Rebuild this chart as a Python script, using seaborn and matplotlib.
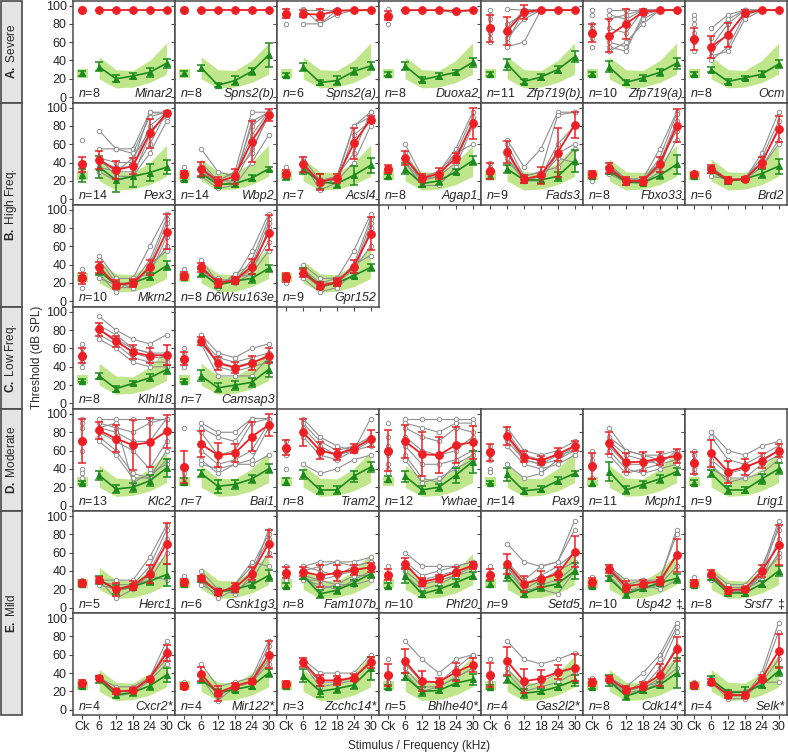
import numpy as np
import pandas as pd
import matplotlib
matplotlib.use("Agg")
import matplotlib.pyplot as plt
import seaborn as sns
from matplotlib.patches import Rectangle

sns.set_theme(style="ticks")
plt.rcParams["font.family"] = ["Liberation Sans", "DejaVu Sans"]
plt.rcParams["mathtext.fontset"] = "custom"
plt.rcParams["mathtext.it"] = "Liberation Sans:italic"
plt.rcParams["mathtext.rm"] = "Liberation Sans"
plt.rcParams["mathtext.bf"] = "Liberation Sans:bold"

# ---------------- data ----------------
X_LABELS = ["Ck", "6", "12", "18", "24", "30"]
BAND_LO = [21, 20, 10, 11, 16, 25]
BAND_HI = [31, 44, 30, 29, 40, 59]

GROUPS = ["A. Severe", "B. High Freq.", "C. Low Freq.", "D. Moderate", "E. Mild"]
GROUP_ROWS = [(0, 0), (1, 2), (3, 3), (4, 4), (5, 6)]
ROW_COUNTS = [7, 7, 3, 2, 7, 7, 7]

GENES = ["Minar2", "Spns2(b)", "Spns2(a)", "Duoxa2", "Zfp719(b)", "Zfp719(a)", "Ocm",
         "Pex3", "Wbp2", "Acsl4", "Agap1", "Fads3", "Fbxo33", "Brd2",
         "Mkrn2", "D6Wsu163e", "Gpr152",
         "Klhl18", "Camsap3",
         "Klc2", "Bai1", "Tram2", "Ywhae", "Pax9", "Mcph1", "Lrig1",
         "Herc1", "Csnk1g3", "Fam107b", "Phf20", "Setd5", "Usp42 ‡", "Srsf7 ‡",
         "Cxcr2*", "Mir122*", "Zcchc14*", "Bhlhe40*", "Gas2l2*", "Cdk14*", "Selk*"]
NS = [8, 8, 6, 8, 11, 10, 8,
      14, 14, 7, 8, 9, 8, 6,
      10, 8, 9,
      8, 7,
      13, 7, 8, 12, 14, 11, 9,
      5, 6, 8, 10, 9, 10, 8,
      4, 4, 3, 5, 4, 8, 4]

CTRL_MEAN = [
    [26, 33, 20, 23, 27, 37], [26, 32, 13, 18, 28, 46], [24, 33, 16, 18, 28, 34],
    [25, 34, 19, 23, 27, 38], [25, 36, 17, 22, 30, 44], [25, 33, 16, 21, 27, 37],
    [25, 30, 17, 21, 25, 36],
    [26, 35, 21, 25, 29, 35], [22, 28, 16, 17, 23, 33], [25, 33, 19, 17, 26, 37],
    [25, 33, 17, 20, 30, 42], [25, 33, 21, 21, 25, 42], [25, 31, 19, 18, 26, 38],
    [25, 32, 20, 22, 28, 36],
    [25, 33, 18, 20, 27, 39], [27, 31, 18, 22, 25, 36], [26, 33, 17, 20, 28, 37],
    [25, 30, 16, 22, 28, 37], [25, 30, 17, 20, 23, 37],
    [25, 33, 18, 20, 27, 41], [26, 35, 21, 23, 29, 40], [26, 34, 17, 17, 32, 42],
    [29, 32, 17, 20, 33, 48], [25, 34, 16, 18, 27, 35], [25, 37, 17, 23, 29, 37],
    [25, 35, 17, 17, 29, 40],
    [26, 30, 20, 23, 29, 36], [26, 31, 17, 20, 25, 35], [24, 35, 15, 19, 27, 37],
    [24, 35, 15, 20, 27, 35], [26, 36, 15, 22, 26, 40], [24, 32, 15, 21, 27, 32],
    [25, 33, 16, 16, 26, 40],
    [26, 33, 16, 19, 26, 38], [26, 33, 19, 22, 26, 40], [26, 37, 20, 23, 27, 45],
    [25, 36, 20, 21, 29, 33], [25, 33, 18, 20, 25, 32], [25, 32, 15, 21, 27, 40],
    [26, 33, 19, 19, 27, 42]]
CTRL_SD = [
    [3, 5, 4, 3, 5, 5], [3, 3, 2, 5, 4, 13], [2, 4, 3, 5, 4, 4],
    [2, 4, 3, 3, 3, 5], [2, 6, 3, 3, 4, 6], [2, 6, 3, 3, 4, 6],
    [2, 3, 3, 2, 3, 4],
    [7, 12, 13, 12, 9, 8], [2, 4, 4, 4, 3, 2], [4, 5, 8, 5, 10, 8],
    [3, 6, 4, 4, 3, 5], [3, 4, 3, 3, 5, 12], [2, 4, 3, 3, 4, 10],
    [2, 3, 3, 2, 5, 8],
    [3, 4, 3, 3, 4, 5], [3, 4, 3, 3, 5, 4], [3, 3, 4, 3, 3, 4],
    [2, 3, 3, 2, 4, 5], [2, 6, 5, 5, 5, 8],
    [2, 5, 4, 5, 6, 10], [4, 4, 7, 5, 4, 5], [4, 5, 4, 4, 6, 5],
    [3, 6, 4, 4, 8, 12], [2, 7, 3, 3, 4, 3], [4, 10, 4, 4, 4, 4],
    [3, 4, 4, 3, 5, 6],
    [2, 4, 5, 3, 4, 12], [2, 3, 3, 3, 3, 6], [3, 4, 4, 4, 3, 5],
    [3, 8, 3, 4, 4, 4], [3, 7, 3, 4, 4, 9], [3, 3, 4, 3, 3, 5],
    [2, 3, 3, 3, 3, 5],
    [2, 4, 3, 4, 4, 8], [2, 4, 4, 3, 3, 4], [2, 7, 6, 5, 4, 13],
    [2, 4, 5, 3, 3, 6], [2, 4, 5, 3, 3, 6], [2, 6, 4, 3, 3, 16],
    [2, 4, 3, 6, 3, 5]]
MUT_MEAN = [
    [95, 95, 95, 95, 95, 95], [95, 95, 95, 95, 95, 95], [91, 91, 90, 94, 95, 95],
    [89, 95, 95, 95, 94, 95], [75, 72, 93, 95, 95, 95], [70, 67, 80, 93, 95, 95],
    [63, 55, 68, 92, 95, 95],
    [38, 43, 32, 36, 72, 94], [27, 33, 19, 25, 63, 92], [28, 38, 19, 23, 61, 87],
    [33, 45, 23, 28, 45, 83], [31, 52, 22, 26, 51, 81], [27, 34, 20, 20, 38, 80],
    [27, 33, 21, 22, 40, 77],
    [25, 37, 18, 20, 37, 76], [28, 37, 20, 23, 38, 75], [26, 31, 17, 21, 38, 74],
    [52, 81, 68, 56, 52, 53], [49, 68, 44, 39, 44, 52],
    [70, 82, 73, 66, 69, 81], [42, 67, 55, 57, 75, 88], [63, 80, 60, 56, 62, 73],
    [60, 70, 56, 55, 66, 69], [58, 76, 53, 49, 56, 65], [43, 68, 47, 48, 51, 54],
    [46, 57, 37, 42, 49, 60],
    [27, 30, 20, 24, 37, 70], [28, 32, 17, 22, 37, 70], [38, 39, 35, 38, 41, 44],
    [36, 48, 28, 32, 39, 46], [36, 48, 26, 31, 37, 61], [28, 42, 23, 26, 29, 57],
    [27, 37, 19, 20, 40, 68],
    [29, 35, 20, 21, 34, 62], [26, 39, 18, 26, 31, 60], [28, 52, 32, 32, 35, 52],
    [38, 53, 31, 30, 41, 49], [38, 53, 31, 34, 41, 46], [30, 34, 22, 26, 38, 66],
    [27, 30, 16, 16, 34, 64]]
MUT_SD = [
    [0, 0, 0, 0, 0, 0], [0, 0, 0, 0, 0, 0], [5, 4, 6, 1, 0, 0],
    [5, 0, 0, 0, 1, 0], [15, 15, 8, 0, 0, 0], [10, 18, 16, 3, 0, 0],
    [12, 12, 13, 3, 0, 0],
    [8, 10, 10, 9, 16, 2], [4, 8, 5, 8, 22, 7], [4, 8, 9, 5, 17, 4],
    [4, 8, 4, 6, 5, 17], [9, 12, 4, 9, 27, 14], [4, 5, 4, 4, 8, 18],
    [2, 4, 3, 2, 6, 14],
    [6, 6, 5, 4, 8, 19], [4, 5, 4, 4, 8, 19], [5, 4, 4, 4, 7, 18],
    [8, 7, 6, 8, 8, 11], [7, 4, 7, 6, 8, 8],
    [24, 9, 15, 27, 27, 18], [17, 14, 13, 10, 16, 12], [8, 15, 9, 6, 5, 9],
    [22, 18, 24, 20, 20, 18], [9, 10, 6, 5, 7, 5], [14, 12, 10, 10, 7, 8],
    [12, 15, 12, 9, 8, 7],
    [3, 3, 7, 5, 10, 22], [3, 3, 3, 5, 7, 15], [6, 5, 12, 9, 5, 5],
    [6, 6, 4, 4, 5, 4], [6, 11, 9, 9, 7, 17], [4, 4, 6, 4, 4, 18],
    [3, 4, 4, 3, 7, 22],
    [3, 2, 3, 3, 2, 9], [3, 8, 8, 3, 3, 15], [3, 5, 6, 5, 4, 6],
    [12, 13, 11, 5, 10, 8], [13, 15, 13, 9, 8, 15], [4, 3, 4, 4, 12, 13],
    [2, 3, 3, 3, 4, 19]]
INDIV = [
    [], [],
    [[95, 95, 95, 95, 95, 95], [80, 80, 80, 95, 95, 95], [95, 96, 80, 90, 95, 95], [90, 95, 95, 95, 95, 95]],
    [[96, 95, 95, 95, 92, 95], [80, 95, 95, 95, 95, 95]],
    [[95, 60, 95, 95, 95, 95], [85, 55, 60, 95, 95, 95], [65, 96, 95, 95, 95, 95],
     [60, 80, 90, 95, 95, 95], [90, 75, 95, 95, 95, 95], [70, 65, 85, 95, 95, 95]],
    [[95, 95, 95, 95, 95, 95], [90, 90, 85, 95, 95, 95], [55, 85, 90, 95, 95, 95],
     [80, 75, 70, 95, 95, 95], [65, 60, 55, 85, 95, 95], [75, 55, 50, 90, 95, 95], [70, 50, 60, 80, 95, 95]],
    [[90, 75, 90, 95, 95, 95], [85, 65, 85, 95, 95, 95], [80, 55, 80, 95, 95, 95],
     [50, 50, 70, 90, 95, 95], [70, 40, 55, 90, 95, 95], [60, 45, 50, 85, 95, 95]],
    [[65, 75, 55, 55, 95, 95], [40, 55, 55, 50, 90, 95], [30, 45, 40, 40, 95, 93], [35, 40, 35, 35, 80, 95],
     [30, 35, 30, 30, 60, 95], [35, 45, 25, 25, 70, 95], [25, 30, 20, 25, 50, 85], [40, 45, 30, 45, 75, 90]],
    [[35, 55, 30, 25, 80, 95], [30, 35, 20, 30, 95, 95], [25, 30, 15, 20, 55, 90], [25, 25, 12, 15, 40, 70],
     [30, 35, 20, 20, 85, 95], [28, 30, 18, 25, 70, 95], [25, 40, 20, 30, 50, 95]],
    [[35, 45, 20, 25, 80, 95], [28, 42, 15, 22, 80, 90], [25, 40, 10, 18, 70, 85],
     [30, 35, 20, 25, 50, 95], [25, 30, 22, 20, 40, 80]],
    [[35, 60, 25, 30, 55, 95], [30, 50, 22, 25, 50, 90], [30, 45, 20, 25, 40, 85],
     [35, 40, 15, 15, 35, 80], [30, 40, 20, 30, 50, 60]],
    [[40, 65, 35, 55, 95, 95], [30, 60, 25, 30, 92, 95], [25, 55, 20, 25, 60, 80],
     [25, 45, 20, 20, 50, 60], [30, 40, 25, 30, 35, 55], [35, 50, 20, 25, 45, 40]],
    [[20, 38, 22, 22, 55, 95], [25, 35, 20, 20, 45, 93], [28, 32, 18, 18, 40, 85],
     [30, 30, 20, 20, 35, 80], [25, 28, 18, 18, 30, 65], [27, 36, 22, 22, 40, 75]],
    [[27, 35, 22, 22, 50, 95], [25, 33, 20, 22, 45, 85], [27, 30, 20, 22, 40, 75],
     [27, 25, 22, 22, 35, 65], [27, 35, 20, 22, 35, 60]],
    [[35, 50, 25, 25, 60, 95], [15, 45, 20, 20, 45, 90], [25, 40, 15, 15, 40, 85],
     [28, 30, 10, 25, 30, 70], [25, 25, 18, 20, 35, 60], [30, 35, 20, 15, 40, 55]],
    [[35, 45, 20, 25, 55, 95], [28, 40, 18, 22, 45, 90], [25, 35, 15, 30, 40, 85],
     [28, 30, 25, 20, 30, 80], [25, 38, 20, 22, 35, 65], [30, 35, 22, 25, 30, 55]],
    [[30, 40, 25, 25, 55, 95], [20, 35, 20, 20, 40, 90], [25, 30, 15, 20, 35, 85],
     [28, 25, 10, 15, 30, 80], [25, 30, 20, 25, 35, 60], [27, 35, 15, 20, 40, 50]],
    [[65, 95, 80, 70, 65, 75], [60, 85, 75, 60, 55, 55], [40, 80, 70, 55, 50, 50],
     [50, 75, 65, 50, 45, 45], [55, 70, 60, 45, 40, 40], [45, 80, 70, 60, 55, 50]],
    [[60, 75, 55, 50, 60, 65], [40, 70, 50, 45, 50, 55], [50, 65, 45, 40, 45, 50],
     [45, 75, 40, 35, 40, 45], [55, 65, 30, 30, 30, 50]],
    [[95, 95, 95, 95, 95, 95], [90, 90, 85, 80, 90, 95], [85, 85, 80, 70, 70, 95], [60, 80, 70, 60, 40, 70],
     [40, 75, 60, 35, 30, 60], [35, 70, 55, 30, 30, 50], [30, 85, 90, 25, 35, 45]],
    [[85, 90, 80, 80, 95, 95], [35, 85, 75, 70, 95, 95], [40, 80, 55, 60, 90, 95],
     [30, 60, 45, 50, 60, 90], [25, 50, 35, 45, 50, 85], [30, 45, 40, 45, 45, 55]],
    [[70, 95, 75, 65, 60, 95], [65, 90, 70, 60, 65, 75], [60, 85, 65, 55, 65, 70],
     [55, 80, 60, 55, 60, 65], [40, 75, 55, 50, 60, 70], [65, 45, 35, 40, 50, 55]],
    [[90, 95, 95, 95, 95, 95], [75, 90, 85, 80, 90, 90], [65, 85, 75, 70, 85, 80], [55, 75, 60, 55, 60, 75],
     [40, 65, 45, 45, 50, 60], [35, 55, 30, 25, 45, 55], [45, 50, 25, 30, 40, 50]],
    [[40, 85, 60, 55, 60, 70], [37, 80, 55, 50, 55, 65], [65, 75, 50, 45, 55, 60],
     [55, 70, 50, 45, 50, 65], [60, 45, 30, 35, 50, 60], [50, 65, 45, 40, 45, 55]],
    [[60, 85, 60, 55, 55, 60], [55, 75, 60, 55, 50, 55], [50, 70, 55, 50, 45, 60],
     [30, 65, 45, 45, 50, 55], [45, 55, 35, 40, 45, 50], [40, 60, 40, 35, 40, 45]],
    [[60, 80, 60, 55, 65, 70], [55, 75, 50, 45, 55, 65], [40, 50, 35, 40, 50, 60],
     [35, 45, 25, 30, 45, 55], [50, 40, 30, 30, 35, 50]],
    [[30, 30, 30, 30, 55, 90], [28, 28, 25, 25, 45, 85], [25, 30, 10, 20, 40, 75],
     [27, 25, 20, 25, 30, 60], [26, 32, 18, 22, 35, 30]],
    [[35, 40, 20, 15, 35, 85], [28, 35, 15, 25, 45, 80], [25, 30, 10, 20, 40, 75],
     [27, 28, 20, 18, 30, 60], [26, 25, 15, 25, 50, 45]],
    [[45, 45, 50, 50, 50, 55], [35, 40, 45, 50, 45, 50], [30, 45, 40, 35, 45, 50], [40, 35, 30, 35, 40, 45],
     [35, 30, 25, 20, 30, 40], [30, 35, 20, 25, 35, 35], [38, 30, 30, 25, 25, 30]],
    [[45, 60, 45, 45, 45, 50], [30, 50, 35, 40, 45, 50], [35, 45, 30, 35, 40, 45],
     [33, 40, 25, 30, 35, 45], [36, 35, 20, 25, 35, 40]],
    [[45, 70, 50, 45, 50, 95], [35, 50, 30, 45, 50, 85], [30, 45, 25, 35, 45, 60],
     [38, 40, 20, 30, 40, 50], [33, 35, 15, 25, 30, 45], [36, 45, 20, 20, 15, 40]],
    [[33, 45, 30, 30, 30, 85], [28, 45, 25, 25, 30, 80], [25, 40, 20, 20, 25, 60],
     [27, 40, 25, 30, 25, 45], [28, 35, 15, 25, 20, 30]],
    [[33, 38, 20, 15, 40, 95], [27, 35, 18, 18, 35, 90], [25, 35, 15, 20, 30, 75],
     [27, 33, 20, 20, 30, 60], [26, 30, 22, 22, 35, 55], [28, 40, 25, 25, 45, 85]],
    [[30, 35, 25, 25, 35, 75], [28, 35, 20, 20, 35, 65], [27, 35, 18, 22, 35, 55], [29, 33, 15, 18, 32, 50]],
    [[30, 50, 25, 30, 35, 75], [26, 40, 15, 25, 30, 70], [25, 35, 10, 25, 30, 55], [24, 35, 20, 25, 30, 50]],
    [[28, 55, 40, 40, 40, 60], [27, 50, 30, 30, 35, 50], [29, 50, 25, 28, 32, 55]],
    [[55, 75, 55, 40, 55, 60], [30, 50, 30, 30, 45, 60], [38, 45, 25, 25, 35, 45], [30, 40, 20, 25, 35, 45]],
    [[55, 75, 55, 50, 55, 62], [30, 45, 25, 30, 40, 45], [35, 40, 20, 25, 30, 40]],
    [[35, 35, 25, 40, 60, 95], [32, 35, 20, 30, 55, 90], [28, 35, 20, 25, 45, 85],
     [30, 33, 18, 22, 35, 70], [27, 30, 15, 20, 30, 55], [29, 32, 22, 25, 30, 45]],
    [[30, 35, 15, 15, 40, 95], [27, 30, 12, 12, 35, 85], [28, 32, 20, 20, 30, 55], [26, 28, 18, 15, 30, 30]]]

# ---------------- style ----------------
RED = "#ee1f24"
GREEN = "#1c8a1c"
BAND = "#c0e68c"
GRAY = "#8f8f8f"
SPINE = "#4a4a4a"
FS = 9
FS_LAB = 8.5

W, H = 788, 754
fig = plt.figure(figsize=(W / 100, H / 100), dpi=100)


def ax_at(x, y, w, h):
    return fig.add_axes([x / W, 1 - (y + h) / H, w / W, h / H])


COL_X0, COL_W = 73, 102
ROW_Y0, ROW_H = 0.5, 102.1
pos = np.arange(6)

# row-group boxes
bx = fig.add_axes([0, 0, 1, 1], zorder=-5)
bx.set_xlim(0, W)
bx.set_ylim(H, 0)
bx.axis("off")
for label, (r0, r1) in zip(GROUPS, GROUP_ROWS):
    y0 = ROW_Y0 + r0 * ROW_H
    y1 = ROW_Y0 + (r1 + 1) * ROW_H
    bx.add_patch(Rectangle((1, y0), 21, y1 - y0, facecolor="#e4e4e4", edgecolor=SPINE, lw=1.2))
    letter, rest = label.split(" ", 1)
    bx.text(11.5, (y0 + y1) / 2, r"$\bf{" + letter + "}$ " + rest,
            rotation=90, ha="center", va="center", fontsize=FS_LAB)

fig.text(37 / W, 1 - 357 / H, "Threshold (dB SPL)", rotation=90, ha="center", va="center",
         fontsize=FS_LAB)
fig.text(419 / W, 1 - 746 / H, "Stimulus / Frequency (kHz)", ha="center", va="center",
         fontsize=FS_LAB)

k = 0
for r, ncols in enumerate(ROW_COUNTS):
    for c in range(ncols):
        ax = ax_at(COL_X0 + c * COL_W, ROW_Y0 + r * ROW_H, COL_W, ROW_H)
        # reference band
        ax.fill_between(pos[1:], BAND_LO[1:], BAND_HI[1:], color=BAND, lw=0, zorder=1)
        ax.add_patch(Rectangle((-0.32, BAND_LO[0]), 0.64, BAND_HI[0] - BAND_LO[0],
                               facecolor=BAND, lw=0, zorder=1))
        # individual mutants
        ind = INDIV[k]
        if ind:
            rows = [(i, p, v) for i, tr in enumerate(ind) for p, v in zip(pos[1:], tr[1:])]
            df = pd.DataFrame(rows, columns=["id", "pos", "val"])
            sns.lineplot(data=df, x="pos", y="val", units="id", estimator=None, ax=ax,
                         color=GRAY, lw=0.8, marker="o", markersize=3.2,
                         markerfacecolor="white", markeredgecolor=GRAY, markeredgewidth=0.7,
                         legend=False, zorder=2)
            ck = pd.DataFrame({"pos": [0] * len(ind), "val": [tr[0] for tr in ind]})
            sns.scatterplot(data=ck, x="pos", y="val", ax=ax, s=10, facecolor="white",
                            edgecolor=GRAY, linewidth=0.7, legend=False, zorder=2)
        # controls
        cm, cs = CTRL_MEAN[k], CTRL_SD[k]
        dfc = pd.DataFrame({"pos": pos[1:], "val": cm[1:]})
        sns.lineplot(data=dfc, x="pos", y="val", ax=ax, color=GREEN, lw=1.2, marker="^",
                     markersize=5, markeredgecolor=GREEN, legend=False, zorder=3)
        ax.errorbar(pos, cm, yerr=cs, fmt="none", ecolor=GREEN, elinewidth=1.1,
                    capsize=3, capthick=1.1, zorder=3)
        ax.plot([0], [cm[0]], marker="^", ms=5, color=GREEN, zorder=3)
        # mutants
        mm, ms = MUT_MEAN[k], MUT_SD[k]
        dfm = pd.DataFrame({"pos": pos[1:], "val": mm[1:]})
        sns.lineplot(data=dfm, x="pos", y="val", ax=ax, color=RED, lw=1.3, marker="o",
                     markersize=5.5, markeredgecolor=RED, legend=False, zorder=4)
        ax.errorbar(pos, mm, yerr=ms, fmt="none", ecolor=RED, elinewidth=1.1,
                    capsize=3, capthick=1.1, zorder=4)
        ax.plot([0], [mm[0]], marker="o", ms=5.5, color=RED, zorder=4)

        ax.set_xlim(-0.55, 5.5)
        ax.set_ylim(-6, 105.5)
        ax.set_xlabel("")
        ax.set_ylabel("")
        ax.set_xticks(pos)
        ax.set_yticks(range(0, 101, 20))
        ax.tick_params(direction="out", length=3, width=0.8, color=SPINE, labelsize=FS, pad=1.5)
        if c == 0:
            ax.set_yticklabels([str(v) for v in range(0, 101, 20)])
        else:
            ax.set_yticklabels([])
        if r == len(ROW_COUNTS) - 1:
            ax.set_xticklabels(X_LABELS)
        else:
            ax.set_xticklabels([])
        for s in ax.spines.values():
            s.set_color(SPINE)
            s.set_linewidth(1.1)
        ax.text(0.05, 0.025, r"$n$=" + str(NS[k]), transform=ax.transAxes,
                ha="left", va="bottom", fontsize=FS, zorder=6)
        g = GENES[k]
        if g.endswith("‡"):
            ax.text(0.975, 0.025, "‡", transform=ax.transAxes, ha="right", va="bottom",
                    fontsize=FS, zorder=6)
            ax.annotate(g[:-2], xy=(0.975, 0.025), xycoords="axes fraction",
                        xytext=(-8, 0), textcoords="offset points", ha="right", va="bottom",
                        fontsize=FS, style="italic", zorder=6)
        else:
            ax.text(0.975, 0.025, g, transform=ax.transAxes, ha="right", va="bottom",
                    fontsize=FS, style="italic", zorder=6)
        k += 1

fig.savefig("out.png", dpi=100)
